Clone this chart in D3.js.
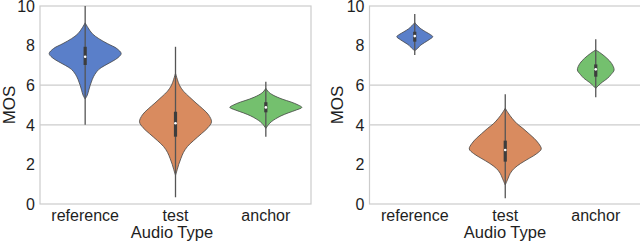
<!DOCTYPE html>
<html><head><meta charset="utf-8">
<script src="https://cdn.jsdelivr.net/npm/d3@7"></script>
<style>body{margin:0;background:#fff}svg{display:block}text{font-family:"Liberation Sans",Arial,sans-serif;fill:#1e1e1e}</style>
</head><body><svg id="c" width="640" height="241"></svg>
<script>
const categories = ["reference", "test", "anchor"];
const yTicks = [0, 2, 4, 6, 8, 10];
const gridValues = [4, 6];
const colors = ["#5a7fc9", "#d98b5f", "#74c06e"];

// left panel: density profiles (value, relative half-width)
const leftRefV  = [9.15, 8.9, 8.6, 8.35, 8.1, 7.85, 7.6, 7.4, 7.2, 7.0, 6.8, 6.55, 6.3, 6.0, 5.75, 5.5, 5.3];
const leftRefD  = [0, 0.08, 0.2, 0.38, 0.62, 0.88, 1.0, 0.92, 0.75, 0.55, 0.38, 0.27, 0.2, 0.14, 0.1, 0.06, 0];
const leftTestV = [6.6, 6.3, 6.0, 5.7, 5.4, 5.1, 4.8, 4.5, 4.15, 3.85, 3.55, 3.2, 2.9, 2.6, 2.3, 2.0, 1.75, 1.45];
const leftTestD = [0, 0.05, 0.11, 0.22, 0.39, 0.57, 0.76, 0.92, 1.0, 0.9, 0.72, 0.5, 0.33, 0.22, 0.15, 0.09, 0.05, 0];
const leftAncV  = [5.84, 5.65, 5.5, 5.3, 5.15, 5.0, 4.88, 4.75, 4.6, 4.45, 4.3, 4.15, 4.0, 3.82];
const leftAncD  = [0, 0.08, 0.2, 0.45, 0.7, 0.9, 1.0, 0.85, 0.62, 0.42, 0.27, 0.15, 0.07, 0];
// [whiskerLow, q1, median, q3, whiskerHigh]
const leftBox = [[4.0, 7.02, 7.44, 7.94, 10.0], [0.34, 3.4, 4.08, 4.66, 7.94], [3.4, 4.63, 4.88, 5.14, 6.18]];

// right panel
const rightRefV  = [9.16, 9.0, 8.85, 8.7, 8.55, 8.45, 8.3, 8.15, 8.0, 7.86, 7.74];
const rightRefD  = [0, 0.08, 0.17, 0.3, 0.44, 0.5, 0.4, 0.27, 0.15, 0.08, 0];
const rightTestV = [4.83, 4.6, 4.33, 4.05, 3.82, 3.55, 3.32, 3.05, 2.78, 2.55, 2.31, 2.05, 1.8, 1.55, 1.3, 0.96];
const rightTestD = [0, 0.08, 0.19, 0.33, 0.49, 0.66, 0.8, 0.93, 1.0, 0.88, 0.67, 0.43, 0.25, 0.14, 0.08, 0];
const rightAncV  = [7.78, 7.6, 7.36, 7.1, 6.77, 6.55, 6.35, 6.15, 6.01, 5.84];
const rightAncD  = [0, 0.15, 0.31, 0.44, 0.51, 0.43, 0.33, 0.18, 0.09, 0];
const rightBox = [[7.53, 8.2, 8.48, 8.7, 9.6], [0.29, 2.14, 2.73, 3.2, 5.54], [5.39, 6.43, 6.8, 7.05, 8.32]];

const svg = d3.select("#c");
const y = d3.scaleLinear().domain([0, 10]).range([204, 6]);
const w = d3.scaleLinear().domain([0, 1]).range([0, 36]);

function panel(x0, x1, violins, boxes, labelX, titleX) {
  const x = d3.scalePoint().domain(categories).range([x0, x1]).padding(0.5);
  const g = svg.append("g");
  g.append("rect").attr("x", x0).attr("y", y(10)).attr("width", x1 - x0).attr("height", y(0) - y(10))
    .attr("fill", "none").attr("stroke", "#cccccc").attr("stroke-width", 1.2);
  g.selectAll(".grid").data(gridValues).enter().append("line")
    .attr("x1", x0).attr("x2", x1).attr("y1", d => y(d)).attr("y2", d => y(d))
    .attr("stroke", "#cccccc").attr("stroke-width", 1.2);
  g.selectAll(".yt").data(yTicks).enter().append("text")
    .attr("x", x0 - 5).attr("y", d => y(d)).attr("dy", "0.36em").attr("text-anchor", "end")
    .style("font-size", "16px").text(d => d);
  g.selectAll(".xt").data(categories).enter().append("text")
    .attr("x", d => x(d)).attr("y", 220.5).attr("text-anchor", "middle")
    .style("font-size", "16px").text(d => d);
  g.append("text").attr("x", titleX).attr("y", 238).attr("text-anchor", "middle")
    .style("font-size", "16.5px").text("Audio Type");
  g.append("text").attr("transform", `translate(${labelX},${y(5)}) rotate(-90)`).attr("text-anchor", "middle")
    .style("font-size", "17px").text("MOS");

  violins.forEach((v, i) => {
    const cx = x(categories[i]);
    const pts = v[0].map((val, j) => ({v: val, d: v[1][j]}));
    const area = d3.area().y(d => y(d.v)).x0(d => cx - w(d.d)).x1(d => cx + w(d.d)).curve(d3.curveCatmullRom);
    g.append("path").attr("d", area(pts)).attr("fill", colors[i])
      .attr("stroke", "#454545").attr("stroke-width", 0.8);
    const b = boxes[i];
    g.append("line").attr("x1", cx).attr("x2", cx).attr("y1", y(b[0])).attr("y2", y(b[4]))
      .attr("stroke", "#555").attr("stroke-width", 1.3);
    g.append("line").attr("x1", cx).attr("x2", cx).attr("y1", y(b[1])).attr("y2", y(b[3]))
      .attr("stroke", "#3d3d3d").attr("stroke-width", 3.2);
    g.append("circle").attr("cx", cx).attr("cy", y(b[2])).attr("r", 1.3).attr("fill", "#fff");
  });
}

panel(40, 311, [[leftRefV, leftRefD], [leftTestV, leftTestD], [leftAncV, leftAncD]], leftBox, 15, 172);
panel(369.5, 641, [[rightRefV, rightRefD], [rightTestV, rightTestD], [rightAncV, rightAncD]], rightBox, 343, 505);
</script></body></html>
